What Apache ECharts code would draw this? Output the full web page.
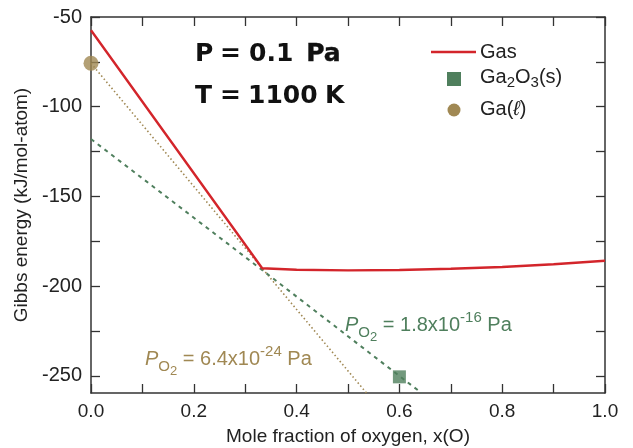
<!DOCTYPE html>
<html>
<head>
<meta charset="utf-8">
<script src="https://cdn.jsdelivr.net/npm/echarts@6/dist/echarts.min.js"></script>
<style>html,body{margin:0;padding:0;background:#fff}#c{width:633px;height:448px}</style>
</head>
<body>
<div id="c"></div>
<script>
// ---- data ----
const gasX = [0, 0.333, 0.4, 0.5, 0.6, 0.7, 0.8, 0.9, 1.0];
const gasY = [-57.4, -190, -190.8, -191.2, -191.0, -190.3, -189.3, -187.8, -185.8];
const gaLiqLineX = [0, 0.333, 0.536];
const gaLiqLineY = [-75.8, -190, -259.5];
const ga2o3LineX = [0, 0.333, 0.6, 0.643];
const ga2o3LineY = [-118, -191, -250, -259.5];
const gaLiqPointX = [0];
const gaLiqPointY = [-75.8];
const ga2o3PointX = [0.6];
const ga2o3PointY = [-250.5];
const yTickLabels = [-250, -200, -150, -100, -50];
const yTicks = [-250, -225, -200, -175, -150, -125, -100, -75, -50];
const legendNames = ['Gas', 'Ga2O3(s)', 'Ga(ℓ)'];

const RED = '#d3252b', GREEN = '#4f7f5d', BROWN = '#a08853', AX = '#333333';
const FONT = 'Liberation Sans, Arial, sans-serif';
const zip = (xs, ys) => xs.map((x, i) => [x, ys[i]]);

const chart = echarts.init(document.getElementById('c'), null, {renderer: 'canvas'});

const G = {left: 91, right: 28, top: 17, bottom: 55, containLabel: false, outerBoundsMode: 'none'};

const baseX = {
  type: 'value', min: 0, max: 1, interval: 0.1,
  axisLine: {show: true, onZero: false, lineStyle: {color: AX, width: 1.5}},
  axisTick: {show: true, inside: true, length: 9, lineStyle: {color: AX, width: 1.3}},
  splitLine: {show: false}
};
const baseY = {
  type: 'value', min: -259.5, max: -50,
  axisLine: {show: true, onZero: false, lineStyle: {color: AX, width: 1.5}},
  axisTick: {show: true, inside: true, length: 9, customValues: yTicks, lineStyle: {color: AX, width: 1.3}},
  splitLine: {show: false}
};

const titleFont = 'bold 25px DejaVu Sans';
const option = {
  animation: false,
  backgroundColor: '#fff',
  grid: G,
  xAxis: [
    Object.assign({}, baseX, {
      position: 'bottom',
      name: 'Mole fraction of oxygen, x(O)', nameLocation: 'middle', nameGap: 34,
      nameTextStyle: {fontFamily: FONT, fontSize: 19, color: '#222'},
      axisLabel: {
        margin: 9, fontFamily: FONT, fontSize: 19, color: '#222',
        formatter: v => (Math.round(v * 10) % 2 === 0 ? v.toFixed(1) : '')
      }
    }),
    Object.assign({}, baseX, {position: 'top', axisLabel: {show: false}})
  ],
  yAxis: [
    Object.assign({}, baseY, {
      position: 'left',
      name: 'Gibbs energy (kJ/mol-atom)', nameLocation: 'middle', nameGap: 58, nameRotate: 90,
      nameTextStyle: {fontFamily: FONT, fontSize: 19, color: '#222'},
      axisLabel: {margin: 9, fontFamily: FONT, fontSize: 20, color: '#222', customValues: yTickLabels}
    }),
    Object.assign({}, baseY, {position: 'right', axisLabel: {show: false}})
  ],
  series: [
    {
      name: legendNames[2] + ' line', type: 'line', data: zip(gaLiqLineX, gaLiqLineY),
      showSymbol: false, lineStyle: {color: BROWN, width: 1.6, type: [1.5, 2.5]}, z: 2
    },
    {
      name: legendNames[1] + ' line', type: 'line', data: zip(ga2o3LineX, ga2o3LineY),
      showSymbol: false, lineStyle: {color: GREEN, width: 2, type: [4, 4.5]}, z: 2
    },
    {
      name: legendNames[0], type: 'line', data: zip(gasX, gasY), smooth: false,
      showSymbol: false, lineStyle: {color: RED, width: 2.4}, z: 3
    },
    {
      name: legendNames[2], type: 'scatter', data: zip(gaLiqPointX, gaLiqPointY),
      symbol: 'circle', symbolSize: 15, itemStyle: {color: BROWN}, clip: false, z: 5
    },
    {
      name: legendNames[1], type: 'scatter', data: zip(ga2o3PointX, ga2o3PointY),
      symbol: 'rect', symbolSize: 13, itemStyle: {color: GREEN}, clip: false, z: 5
    }
  ],
  graphic: [
    // condition text
    {type: 'text', left: 195, top: 42, style: {text: 'P', font: titleFont, fill: '#111'}},
    {type: 'text', left: 220, top: 42, style: {text: '=', font: titleFont, fill: '#111'}},
    {type: 'text', left: 249, top: 42, style: {text: '0.1', font: titleFont, fill: '#111'}},
    {type: 'text', left: 306, top: 42, style: {text: 'Pa', font: titleFont, fill: '#111', stroke: '#111', lineWidth: 0.4}},
    {type: 'text', left: 195, top: 84, style: {text: 'T', font: titleFont, fill: '#111'}},
    {type: 'text', left: 220, top: 84, style: {text: '=', font: titleFont, fill: '#111'}},
    {type: 'text', left: 248, top: 84, style: {text: '1100', font: titleFont, fill: '#111'}},
    {type: 'text', left: 325, top: 84, style: {text: 'K', font: titleFont, fill: '#111'}},
    // legend
    {type: 'line', shape: {x1: 431, y1: 52, x2: 476, y2: 52}, style: {stroke: RED, lineWidth: 2.4}},
    {type: 'rect', shape: {x: 447, y: 72, width: 14, height: 14}, style: {fill: GREEN}},
    {type: 'circle', shape: {cx: 454, cy: 110, r: 6.5}, style: {fill: BROWN}},
    {type: 'text', left: 480, top: 42, style: {text: 'Gas', font: '20px ' + FONT, fill: '#222'}},
    {type: 'text', left: 480, top: 67, style: {
      text: '{n|Ga}{s|2}{n|O}{s|3}{n|(s)}',
      rich: {
        n: {fontFamily: FONT, fontSize: 20, fill: '#222', lineHeight: 26, verticalAlign: 'middle'},
        s: {fontFamily: FONT, fontSize: 15, fill: '#222', lineHeight: 26, verticalAlign: 'bottom'}
      }
    }},
    {type: 'text', left: 480, top: 99, style: {
      text: '{n|Ga(}{i|ℓ}{n|)}',
      rich: {
        n: {fontFamily: FONT, fontSize: 20, fill: '#222'},
        i: {fontFamily: FONT, fontSize: 20, fontStyle: 'italic', fill: '#222'}
      }
    }},
    // annotations
    {type: 'text', left: 345, top: 308, style: {
      text: '{p|P}{s|O}{ss|2}{n| = 1.8x10}{u|-16}{n| Pa}',
      rich: {
        p: {fontFamily: FONT, fontSize: 20, fontStyle: 'italic', fill: GREEN, lineHeight: 34, verticalAlign: 'middle'},
        s: {fontFamily: FONT, fontSize: 15, fill: GREEN, lineHeight: 34, verticalAlign: 'bottom', padding: [0,0,2,0]},
        ss: {fontFamily: FONT, fontSize: 13, fill: GREEN, lineHeight: 34, verticalAlign: 'bottom', padding: [0,0,-2,0]},
        n: {fontFamily: FONT, fontSize: 20, fill: GREEN, lineHeight: 34, verticalAlign: 'middle'},
        u: {fontFamily: FONT, fontSize: 15, fill: GREEN, lineHeight: 34, verticalAlign: 'top', padding: [2,0,0,0]}
      }
    }},
    {type: 'text', left: 145, top: 342, style: {
      text: '{p|P}{s|O}{ss|2}{n| = 6.4x10}{u|-24}{n| Pa}',
      rich: {
        p: {fontFamily: FONT, fontSize: 20, fontStyle: 'italic', fill: BROWN, lineHeight: 34, verticalAlign: 'middle'},
        s: {fontFamily: FONT, fontSize: 15, fill: BROWN, lineHeight: 34, verticalAlign: 'bottom', padding: [0,0,2,0]},
        ss: {fontFamily: FONT, fontSize: 13, fill: BROWN, lineHeight: 34, verticalAlign: 'bottom', padding: [0,0,-2,0]},
        n: {fontFamily: FONT, fontSize: 20, fill: BROWN, lineHeight: 34, verticalAlign: 'middle'},
        u: {fontFamily: FONT, fontSize: 15, fill: BROWN, lineHeight: 34, verticalAlign: 'top', padding: [2,0,0,0]}
      }
    }}
  ]
};
chart.setOption(option);
</script>
</body>
</html>
